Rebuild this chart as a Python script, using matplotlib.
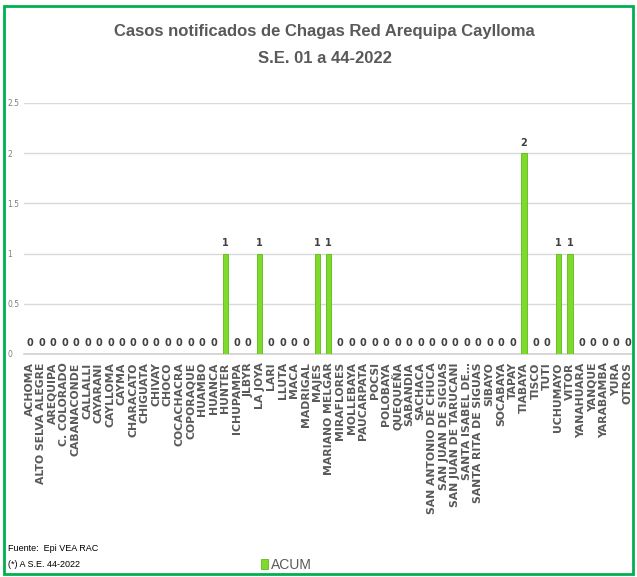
import matplotlib.pyplot as plt
import matplotlib.patches as patches
import numpy as np

plt.rcParams['font.family'] = ['DejaVu Sans']

distritos = [
    "ACHOMA", "ALTO SELVA ALEGRE", "AREQUIPA", "C. COLORADO", "CABANACONDE",
    "CALLALLI", "CAYARANI", "CAYLLOMA", "CAYMA", "CHARACATO", "CHIGUATA",
    "CHIVAY", "CHOCO", "COCACHACRA", "COPORAQUE", "HUAMBO", "HUANCA", "HUNTER",
    "ICHUPAMPA", "JLBYR", "LA JOYA", "LARI", "LLUTA", "MACA", "MADRIGAL",
    "MAJES", "MARIANO MELGAR", "MIRAFLORES", "MOLLEBAYA", "PAUCARPATA", "POCSI",
    "POLOBAYA", "QUEQUEÑA", "SABANDIA", "SACHACA", "SAN ANTONIO DE CHUCA",
    "SAN JUAN DE SIGUAS", "SAN JUAN DE TARUCANI", "SANTA ISABEL DE…",
    "SANTA RITA DE SIGUAS", "SIBAYO", "SOCABAYA", "TAPAY", "TIABAYA", "TISCO",
    "TUTI", "UCHUMAYO", "VITOR", "YANAHUARA", "YANQUE", "YARABAMBA", "YURA",
    "OTROS",
]
casos = [
    0, 0, 0, 0, 0, 0, 0, 0, 0, 0, 0, 0, 0, 0, 0, 0, 0, 1,
    0, 0, 1, 0, 0, 0, 0, 1, 1, 0, 0, 0, 0, 0, 0, 0, 0, 0,
    0, 0, 0, 0, 0, 0, 0, 2, 0, 0, 1, 1, 0, 0, 0, 0, 0,
]
y_ticks = [0, 0.5, 1, 1.5, 2, 2.5]
y_tick_labels = ["0", "0.5", "1", "1.5", "2", "2.5"]

narrow = ['Liberation Sans', 'DejaVu Sans']

fig = plt.figure(figsize=(6.37, 5.77), dpi=100)
ax = fig.add_axes([0.038, 0.3865, 0.956, 0.435])

x = np.arange(len(distritos))
bars = ax.bar(x, casos, width=0.45, color='#7DDB2B', edgecolor='#5FB81C',
              linewidth=0.6, label='ACUM', zorder=3)

# etiqueta de valor sobre cada barra
for b, v in zip(bars, casos):
    ax.annotate(f'{v}', (b.get_x() + b.get_width() / 2, v),
                xytext=(0, 4), textcoords='offset points',
                ha='center', va='bottom', fontsize=7, fontweight='bold',
                color='#404040')

ax.set_xlim(-0.5, len(distritos) - 0.5)
ax.set_ylim(0, 2.5)
ax.set_yticks(y_ticks)
ax.set_yticklabels(y_tick_labels, fontsize=5.5, color='#808080')
ax.set_xticks(x)
ax.set_xticklabels(distritos, rotation=90, fontsize=7.8, fontweight='bold',
                   color='#595959')
ax.tick_params(axis='both', length=0)
ax.tick_params(axis='x', pad=6)
for lbl in ax.get_yticklabels():
    lbl.set_horizontalalignment('left')
ax.yaxis.set_tick_params(pad=12)

ax.grid(axis='y', color='#d9d9d9', linewidth=1, zorder=0)
for s in ['top', 'right', 'left']:
    ax.spines[s].set_visible(False)
ax.spines['bottom'].set_color('#d0d0d0')
ax.spines['bottom'].set_linewidth(1.2)

fig.text(0.51, 0.945, "Casos notificados de Chagas Red Arequipa Caylloma",
         ha='center', va='center', fontsize=12, fontweight='bold',
         color='#595959', family=narrow)
fig.text(0.51, 0.899, "S.E. 01 a 44-2022",
         ha='center', va='center', fontsize=12, fontweight='bold',
         color='#595959', family=narrow)

fig.text(0.012, 0.05, "Fuente:  Epi VEA RAC", ha='left', va='center',
         fontsize=6.5, color='#000000', family=narrow)
fig.text(0.012, 0.021, "(*) A S.E. 44-2022", ha='left', va='center',
         fontsize=6.5, color='#000000', family=narrow)

leg = fig.legend(handles=[bars], labels=['ACUM'], loc='center',
                 bbox_to_anchor=(0.45, 0.021), frameon=False, handlelength=0.5,
                 handleheight=0.8, handletextpad=0.2,
                 prop={'family': narrow, 'size': 10})
for t in leg.get_texts():
    t.set_color('#595959')

fig.patches.append(patches.Rectangle((0.006, 0.005), 0.988, 0.985,
                                     transform=fig.transFigure, fill=False,
                                     edgecolor='#00B050', linewidth=2))

fig.savefig('out.png', dpi=100)
